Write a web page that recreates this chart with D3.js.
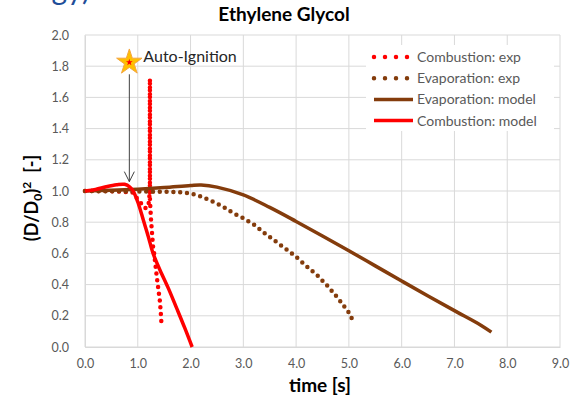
<!DOCTYPE html>
<html>
<head>
<meta charset="utf-8">
<script src="https://cdn.jsdelivr.net/npm/d3@7"></script>
<style>
  body { margin: 0; background: #fff; }
  svg { display: block; font-family: Lato, "Open Sans", sans-serif; }
</style>
</head>
<body>
<svg id="chart" width="577" height="401"></svg>
<script>
// axis ticks
const xTicks = [0, 1, 2, 3, 4, 5, 6, 7, 8, 9];
const yTicks = [0, 0.2, 0.4, 0.6, 0.8, 1.0, 1.2, 1.4, 1.6, 1.8, 2.0];

// Combustion: exp (dotted)
const combExpT = [0, 0.3, 0.6, 0.9, 1.04, 1.14, 1.2, 1.23, 1.23, 1.23, 1.25, 1.27, 1.29, 1.31, 1.33, 1.36, 1.39, 1.42, 1.44, 1.45];
const combExpV = [1.0, 1.0, 0.998, 0.99, 0.93, 0.89, 0.9, 1.0, 1.72, 0.95, 0.82, 0.73, 0.64, 0.6, 0.54, 0.45, 0.37, 0.29, 0.2, 0.14];

// Evaporation: exp (dotted)
const evapExpT = [0, 0.5, 1.0, 1.5, 1.8, 2.0, 2.2, 2.4, 2.6, 2.8, 3.0, 3.2, 3.4, 3.6, 3.8, 4.0, 4.2, 4.4, 4.6, 4.8, 5.0, 5.06];
const evapExpV = [1.0, 0.998, 0.997, 0.995, 0.992, 0.985, 0.965, 0.935, 0.903, 0.86, 0.826, 0.785, 0.73, 0.68, 0.63, 0.578, 0.517, 0.46, 0.39, 0.31, 0.22, 0.18];

// Evaporation: model
const evapModT = [0, 0.5, 1.0, 1.5, 2.0, 2.2, 2.5, 3.0, 3.5, 4.0, 4.5, 5.0, 5.5, 6.0, 6.5, 7.0, 7.5, 7.7];
const evapModV = [1.0, 1.005, 1.012, 1.022, 1.035, 1.038, 1.025, 0.975, 0.895, 0.805, 0.712, 0.617, 0.52, 0.423, 0.327, 0.233, 0.14, 0.095];

// Combustion: model
const combModT = [0, 0.2, 0.4, 0.6, 0.75, 0.85, 0.92, 1.01, 1.105, 1.2, 1.29, 1.42, 1.58, 1.74, 1.89, 2.03];
const combModV = [1.0, 1.01, 1.027, 1.04, 1.043, 1.025, 0.995, 0.92, 0.814, 0.707, 0.6, 0.494, 0.376, 0.246, 0.122, 0.0];

// auto-ignition marker
const ignitionT = 0.84;
const ignitionV = 1.825;
const arrowEndV = 1.06;

const RED = '#ff0000';
const BROWN = '#843c0c';
const GRID = '#d9d9d9';
const TXT = '#595959';

const svg = d3.select('#chart');
const x = d3.scaleLinear().domain([0, 9]).range([85, 560]);
const y = d3.scaleLinear().domain([0, 2]).range([347, 35]);

// cut-off slide title fragment in the corner
svg.append('text')
  .attr('x', 90).attr('y', 0)
  .attr('text-anchor', 'end')
  .style('font-size', '30px')
  .style('fill', '#1f4e99')
  .text('ology)');

// title
svg.append('text')
  .attr('x', 284).attr('y', 21)
  .attr('text-anchor', 'middle')
  .style('font-size', '19px').style('font-weight', 'bold')
  .style('fill', '#000')
  .text('Ethylene Glycol');

// grid
const grid = svg.append('g');
grid.selectAll('line.v').data(xTicks).enter().append('line')
  .attr('x1', d => x(d)).attr('x2', d => x(d))
  .attr('y1', y(0)).attr('y2', y(2))
  .style('stroke', GRID).style('stroke-width', 1);
grid.selectAll('line.h').data(yTicks).enter().append('line')
  .attr('x1', x(0)).attr('x2', x(9))
  .attr('y1', d => y(d)).attr('y2', d => y(d))
  .style('stroke', GRID).style('stroke-width', 1);

// axes
const xAxis = svg.append('g')
  .attr('transform', `translate(0,${y(0)})`)
  .call(d3.axisBottom(x).tickValues(xTicks).tickFormat(d3.format('.1f')).tickSize(0).tickPadding(12));
const yAxis = svg.append('g')
  .attr('transform', `translate(${x(0)},0)`)
  .call(d3.axisLeft(y).tickValues(yTicks).tickFormat(d3.format('.1f')).tickSize(0).tickPadding(16));
[xAxis, yAxis].forEach(a => {
  a.select('.domain').style('stroke', GRID);
  a.selectAll('text').style('fill', TXT).style('font-size', '12.5px').style('font-family', 'Lato, sans-serif');
});

// axis titles
svg.append('text')
  .attr('x', 320).attr('y', 392)
  .attr('text-anchor', 'middle')
  .style('font-size', '19px').style('font-weight', 'bold')
  .text('time [s]');

const yt = svg.append('text')
  .attr('transform', 'translate(38,198) rotate(-90)')
  .attr('text-anchor', 'middle')
  .style('font-size', '18px').style('font-weight', 'bold');
yt.append('tspan').text('(D/D');
yt.append('tspan').attr('dy', 4).style('font-size', '12px').text('0');
yt.append('tspan').attr('dy', -4).text(')');
yt.append('tspan').attr('dy', -7).style('font-size', '12px').text('2');
yt.append('tspan').attr('dy', 7).text('\u2002[-]');

const zip = (a, b) => a.map((v, i) => [v, b[i]]);
const straight = d3.line().x(d => x(d[0])).y(d => y(d[1]));
const smooth = d3.line().x(d => x(d[0])).y(d => y(d[1])).curve(d3.curveCatmullRom.alpha(0.5));

const series = [
  { t: combExpT, v: combExpV, color: RED, dotted: true },
  { t: evapExpT, v: evapExpV, color: BROWN, dotted: true },
  { t: evapModT, v: evapModV, color: BROWN, dotted: false },
  { t: combModT, v: combModV, color: RED, dotted: false }
];

series.forEach(s => {
  const p = svg.append('path')
    .datum(zip(s.t, s.v))
    .style('fill', 'none')
    .style('stroke', s.color);
  if (s.dotted) {
    p.attr('d', straight)
      .style('stroke-width', 4.5)
      .style('stroke-linecap', 'round')
      .style('stroke-dasharray', '0,6.8');
  } else {
    p.attr('d', smooth)
      .style('stroke-width', 3.5)
      .style('stroke-linejoin', 'round');
  }
});

// auto-ignition arrow + star
const ax = x(ignitionT);
svg.append('line')
  .attr('x1', ax).attr('x2', ax)
  .attr('y1', y(ignitionV) + 12).attr('y2', y(arrowEndV))
  .style('stroke', '#404040').style('stroke-width', 1);
svg.append('path')
  .attr('d', `M${ax - 5},${y(arrowEndV) - 10}L${ax},${y(arrowEndV)}L${ax + 5},${y(arrowEndV) - 10}`)
  .style('fill', 'none').style('stroke', '#404040').style('stroke-width', 1);

const star = d3.symbol().type(d3.symbolStar);
svg.append('path')
  .attr('d', star.size(200)())
  .attr('transform', `translate(${ax},${y(ignitionV)})`)
  .style('fill', '#ffc000').style('stroke', '#f4a640').style('stroke-width', 1);
svg.append('path')
  .attr('d', star.size(14)())
  .attr('transform', `translate(${ax},${y(ignitionV)})`)
  .style('fill', RED);
svg.append('text')
  .attr('x', ax + 14).attr('y', y(ignitionV) - 0.5)
  .style('font-size', '16px').style('fill', '#262626')
  .text('Auto-Ignition');

// legend
const legendItems = [
  { name: 'Combustion: exp', color: RED, dotted: true },
  { name: 'Evaporation: exp', color: BROWN, dotted: true },
  { name: 'Evaporation: model', color: BROWN, dotted: false },
  { name: 'Combustion: model', color: RED, dotted: false }
];
const lg = svg.append('g');
lg.append('rect')
  .attr('x', 366).attr('y', 45).attr('width', 188).attr('height', 86)
  .style('fill', '#fff');
legendItems.forEach((d, i) => {
  const ly = 57 + i * 21.2;
  const l = lg.append('line')
    .attr('x1', 374).attr('x2', d.dotted ? 409 : 413)
    .attr('y1', ly).attr('y2', ly)
    .style('stroke', d.color);
  if (d.dotted) {
    l.style('stroke-width', 4.5).style('stroke-linecap', 'round').style('stroke-dasharray', '0,11');
  } else {
    l.style('stroke-width', 3.5);
  }
  lg.append('text')
    .attr('x', 417).attr('y', ly + 5)
    .style('font-size', '14px').style('fill', TXT)
    .text(d.name);
});
</script>
</body>
</html>
